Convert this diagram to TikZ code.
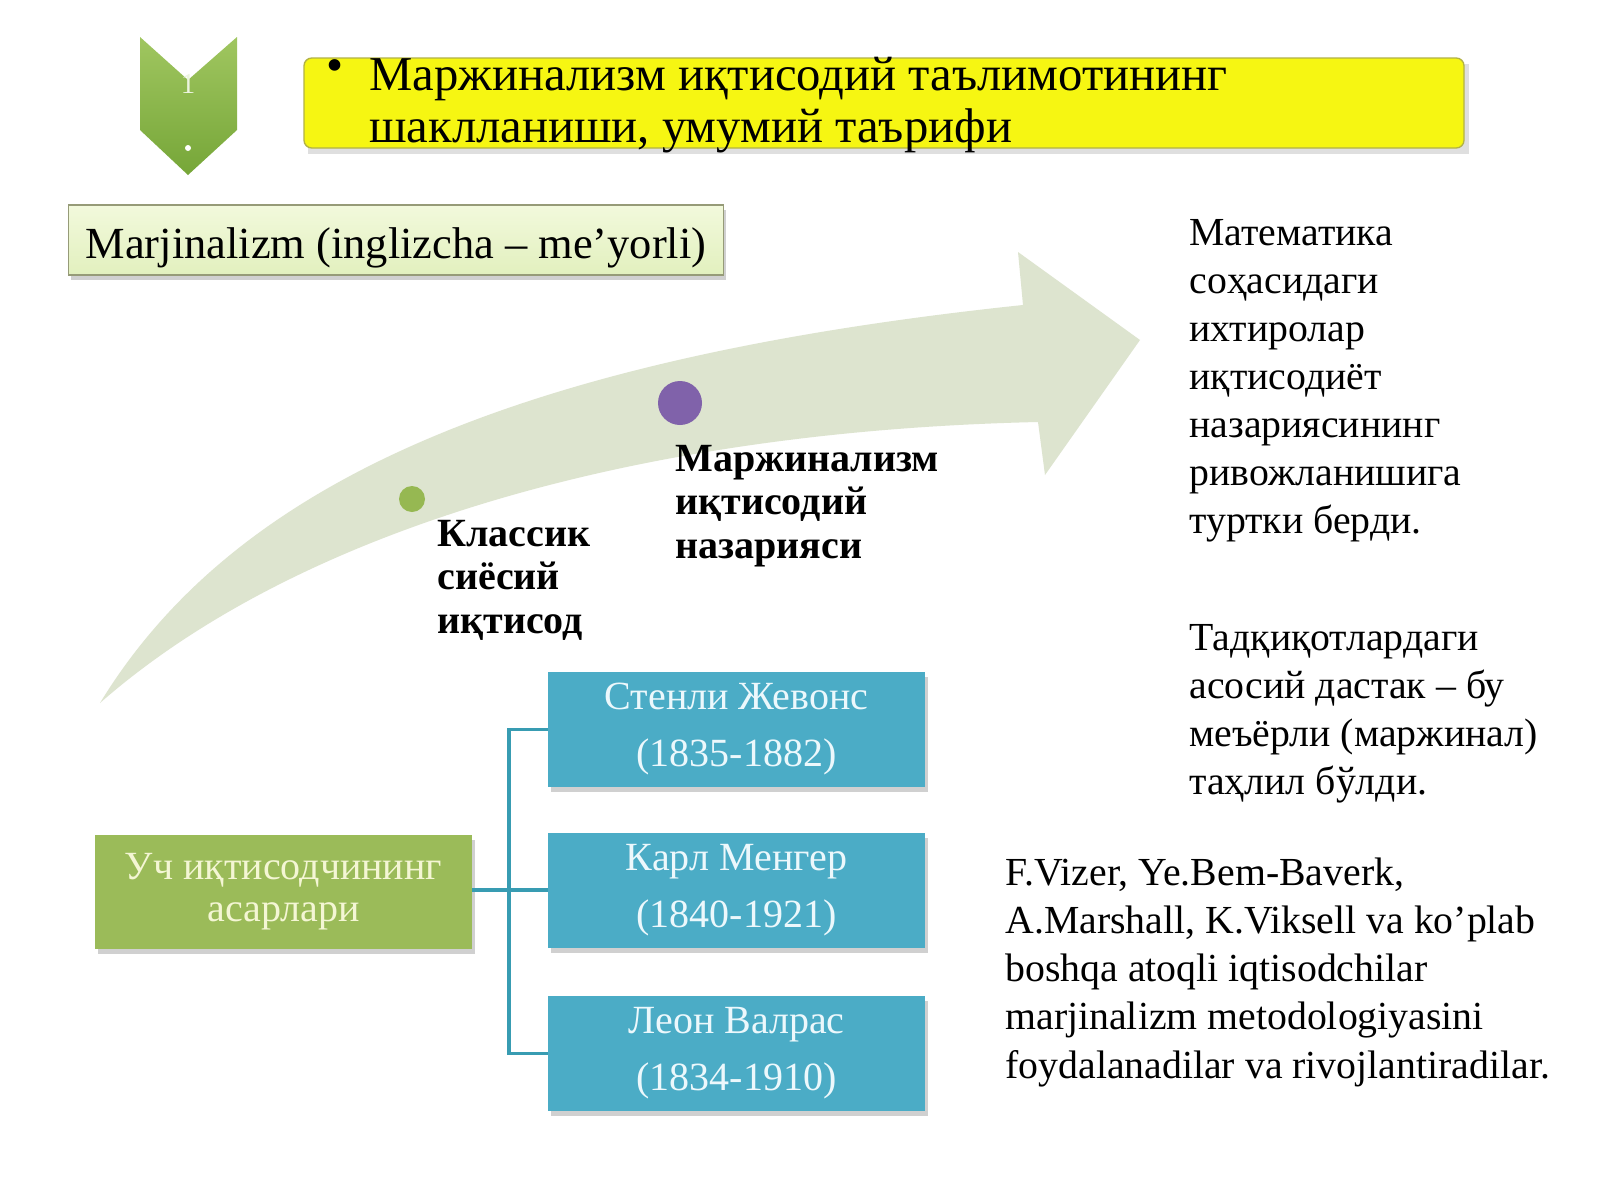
\documentclass[tikz,border=0pt]{standalone}
\usepackage{fontspec}
\setmainfont{Liberation Serif}
\usetikzlibrary{shadows}
\definecolor{bandc}{RGB}{221,228,207}
\definecolor{bluec}{RGB}{75,172,198}
\definecolor{tealc}{RGB}{56,156,178}
\definecolor{greenc}{RGB}{155,187,89}
\definecolor{greentxt}{RGB}{244,246,212}
\definecolor{bluetxt}{RGB}{236,248,252}
\definecolor{purplec}{RGB}{128,98,170}
\definecolor{dotgreen}{RGB}{150,184,82}
\definecolor{yellowc}{RGB}{246,246,18}
\definecolor{yellowb}{RGB}{178,178,70}
\definecolor{marjtop}{RGB}{242,249,220}
\definecolor{marjbot}{RGB}{226,240,190}
\definecolor{marjb}{RGB}{150,155,120}
\definecolor{chevtop}{RGB}{160,198,96}
\definecolor{chevbot}{RGB}{118,166,56}
\tikzset{
  softshadow/.style={drop shadow={shadow xshift=1.2pt, shadow yshift=-2.2pt, opacity=.3, fill=black!60}},
  bluebox/.style={rectangle, fill=bluec, text=bluetxt, minimum width=169.6pt, minimum height=51.8pt,
    align=center, inner sep=0pt, font={\fontsize{18pt}{25.6pt}\selectfont}, softshadow},
  greenbox/.style={rectangle, fill=greenc, text=greentxt, minimum width=169.6pt, minimum height=51.3pt,
    align=center, inner sep=0pt, font={\fontsize{18pt}{19pt}\selectfont}, softshadow},
  conn/.style={draw=tealc, line width=1.4pt},
  boldlabel/.style={anchor=base west, align=left, inner sep=0pt, font={\bfseries\fontsize{18pt}{19.5pt}\selectfont}},
  bodytext/.style={anchor=base west, align=left, inner sep=0pt, font={\fontsize{17.9pt}{21.6pt}\selectfont}},
  latintext/.style={anchor=base west, align=left, inner sep=0pt, font={\fontsize{17.9pt}{21.7pt}\selectfont}}
}
\begin{document}
\begin{tikzpicture}[x=0.45pt,y=-0.45pt]
\useasboundingbox (0,0) rectangle (1600,1200);
\fill[white] (0,0) rectangle (1600,1200);

% chevron icon
\shade[top color=chevtop, bottom color=chevbot]
  (140,37) -- (188,80) -- (237,37) -- (237,130) -- (188,175) -- (140,130) -- cycle;
\node[text=white!80!chevtop, inner sep=0pt, font={\fontsize{13pt}{13pt}\selectfont}] (chevnum) at (188,84) {1};
\fill[white] (188,148) circle (3);

% title box
\fill[black!35, opacity=.35] (308,64) rectangle (1469,154);
\draw[yellowb, fill=yellowc, rounded corners=3.5pt, line width=.6pt] (304,58) rectangle (1464,148);
\node[inner sep=0pt, font={\fontsize{21.9pt}{23pt}\selectfont}] (bullet) at (335,71) {•};
\node[anchor=base west, align=left, inner sep=0pt, font={\fontsize{21.9pt}{23pt}\selectfont}] (title) at (369,142)
  {Маржинализм иқтисодий таълимотининг\\шаклланиши, умумий таърифи};

% Marjinalizm box
\node[rectangle, draw=marjb, line width=.5pt, top color=marjtop, bottom color=marjbot,
  minimum width=295pt, minimum height=31.5pt, inner sep=0pt, text height=21.5pt, text depth=4.5pt,
  font={\fontsize{20pt}{20pt}\selectfont}, softshadow] (marj) at (396,240)
  {Marjinalizm (inglizcha – me’yorli)};

% curved arrow
\fill[bandc] (100,703) .. controls (230,490) and (500,360) .. (1023,305)
  -- (1018,252) -- (1140,340) -- (1045,475) -- (1038,422)
  .. controls (600,432) and (280,545) .. (100,703) -- cycle;
\fill[dotgreen] (412,499) circle (13);
\fill[purplec] (680,403) circle (22);

\node[boldlabel] (classic) at (437,633) {Классик\\сиёсий\\иқтисод};
\node[boldlabel] (margin) at (675,558) {Маржинализм\\иқтисодий\\назарияси};

% right texts
\node[bodytext] (math) at (1189,533) {Математика\\соҳасидаги\\ихтиролар\\иқтисодиёт\\назариясининг\\ривожланишига\\туртки берди.};
\node[bodytext] (research) at (1189,794) {Тадқиқотлардаги\\асосий дастак – бу\\меъёрли (маржинал)\\таҳлил бўлди.};
\node[latintext] (others) at (1005,1078) {F.Vizer, Ye.Bem-Baverk,\\A.Marshall, K.Viksell va ko’plab\\boshqa atoqli iqtisodchilar\\marjinalizm metodologiyasini\\foydalanadilar va rivojlantiradilar.};

% hierarchy
\node[greenbox, yshift=-0.9pt] (g) at (283.5,890) {Уч иқтисодчининг\\асарлари};
\node[bluebox, yshift=-0.6pt] (b1) at (736.5,728) {Стенли Жевонс\\(1835-1882)};
\node[bluebox, yshift=-0.6pt] (b2) at (736.5,889) {Карл Менгер\\(1840-1921)};
\node[bluebox, yshift=-0.6pt] (b3) at (736.5,1052) {Леон Валрас\\(1834-1910)};
\coordinate (j) at (509,890);
\draw[conn] (g.east |- j) -- (j);
\draw[conn] (j) -- (b2.west |- j);
\draw[conn] (j) |- (b1.west);
\draw[conn] (j) |- (b3.west);
\end{tikzpicture}
\end{document}
